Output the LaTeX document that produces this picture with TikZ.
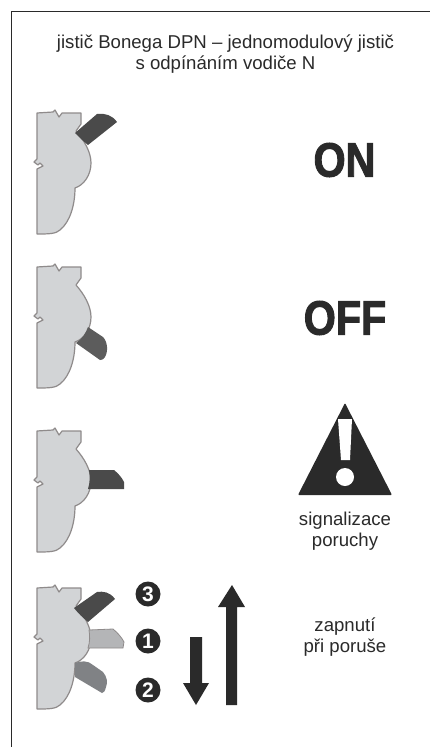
\documentclass[tikz,border=0pt]{standalone}
\usepackage{fontspec}
\setmainfont{Liberation Sans}
\newfontfamily\heavyfont[FakeBold=2.2]{Liberation Sans Bold}
\definecolor{bodyfill}{HTML}{D2D4D6}
\definecolor{bodyline}{HTML}{8F8B8B}
\definecolor{ink}{HTML}{2A2A2A}
\definecolor{leverdark}{HTML}{4A4A4A}
\definecolor{leveroff}{HTML}{5C5C5C}
\definecolor{levermid}{HTML}{808285}
\definecolor{leverlight}{HTML}{B4B5B7}
\tikzset{
  frameline/.style={draw=ink,line width=0.9pt},
  caption/.style={align=center,font=\fontsize{18.6}{20.5}\selectfont,text=ink,inner sep=0pt},
  bigword/.style={font=\heavyfont\fontsize{48}{48}\selectfont,xscale=0.86,text=ink,inner sep=0pt},
  numdot/.style={circle,fill=ink,minimum size=25pt,inner sep=0pt,text=white,font=\bfseries\fontsize{21}{21}\selectfont},
  casing/.style={fill=bodyfill,draw=bodyline,line width=1.2pt,line join=round},
}
\newcommand{\casing}[1]{%
  \path[casing,shift={(0,#1)}]
    (37,113) -- (53,112) -- (55,110) -- (59,117) -- (62,113) -- (81,113) -- (81,124) -- (76,131)
    .. controls (84,140) and (91,152) .. (91,163)
    .. controls (91,175) and (84,185) .. (75,188)
    .. controls (75,205) and (70,222) .. (60,230)
    .. controls (56,234) and (48,234) .. (37,234)
    -- (37,169) -- (43,166) -- (40,163) -- (38,165) -- (34,162) -- (37,159) -- cycle;}
\begin{document}
\begin{tikzpicture}[x=1pt,y=-1pt]
\useasboundingbox (0,0) rectangle (430,747);
\fill[white] (0,0) rectangle (430,747);
\coordinate (frameEnd) at (430,11);
\coordinate (frameCorner) at (11.7,11);
\coordinate (frameBottom) at (11.7,747);
\draw[frameline] (frameEnd) -- (frameCorner) -- (frameBottom);
\node[caption] (title) at (225.5,54) {jistič Bonega DPN – jednomodulový jistič\\s odpínáním vodiče N};
% ON
\casing{0}
\fill[leverdark] (75,133) -- (97,114) .. controls (105,113) and (112,115) .. (117,122) -- (88,145) .. controls (83,141) and (79,137) .. (75,133) -- cycle;
\node[bigword] (on) at (344.5,160) {ON};
% OFF
\casing{154}
\fill[leveroff] (88,327) -- (103,337) .. controls (108,342) and (108,352) .. (105,357) .. controls (103,360) and (101,360) .. (100,360) -- (76,343) .. controls (82,339) and (86,333) .. (88,327) -- cycle;
\node[bigword] (off) at (345,318) {OFF};
% fault
\casing{318}
\fill[leverdark] (89,470) -- (114,470) .. controls (119,474) and (122,478) .. (124,482) -- (124,489) -- (88,489) .. controls (90,483) and (90,476) .. (89,470) -- cycle;
\fill[ink,rounded corners=1pt] (345,403) -- (392,495) -- (298,495) -- cycle;
\fill[white] (338,419) -- (352,419) -- (350,460) -- (341,460) -- cycle;
\node[circle,fill=white,minimum size=18pt,inner sep=0pt] (dot) at (345,477) {};
\node[caption] (fault) at (345,531) {signalizace\\poruchy};
% reset
\casing{475}
\fill[levermid] (75,663) .. controls (80,661) and (88,660) .. (93,665) -- (103,672) .. controls (107,677) and (108,682) .. (106,687) .. controls (105,691) and (104,693) .. (102,693) -- (75,677) -- cycle;
\fill[leverlight,draw=bodyline,line width=0.8pt] (89,630) -- (113,629) .. controls (118,633) and (122,638) .. (124,642) -- (123,648) -- (88,648) .. controls (90,642) and (90,636) .. (89,630) -- cycle;
\fill[leverdark] (74,608) -- (97,592) .. controls (103,591) and (110,592) .. (115,599) -- (88,622) .. controls (83,618) and (78,613) .. (74,608) -- cycle;
\node[numdot] (n3) at (148,594) {3};
\node[numdot] (n1) at (148,641) {1};
\node[numdot] (n2) at (148,690) {2};
\fill[ink] (226,705) -- (226,607) -- (218,607) -- (232,585) -- (245,607) -- (237,607) -- (237,705) -- cycle;
\fill[ink] (190,637) -- (202,637) -- (202,683) -- (209,683) -- (196,705) -- (183,683) -- (190,683) -- cycle;
\node[caption] (reset) at (345,637) {zapnutí\\při poruše};
\end{tikzpicture}
\end{document}
